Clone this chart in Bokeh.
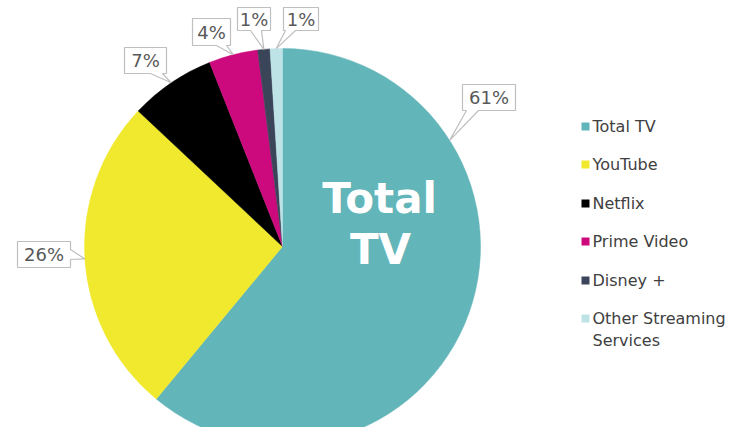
import math
from bokeh.plotting import figure
from bokeh.models import Range1d
from bokeh.core.properties import value
from bokeh.embed import file_html
from bokeh.resources import INLINE

# ---- data ----
categories = ["Total TV", "YouTube", "Netflix", "Prime Video", "Disney +", "Other Streaming Services"]
legend_labels = ["Total TV", "YouTube", "Netflix", "Prime Video", "Disney +", "Other Streaming\nServices"]
shares = [61, 26, 7, 4, 1, 1]
colors = ["#62B5B9", "#F0E92E", "#000000", "#CC0A7E", "#3B4559", "#BDE3E7"]

W, H = 727, 427
p = figure(width=W, height=H, output_backend="svg", toolbar_location=None,
           x_range=Range1d(0, W), y_range=Range1d(-H, 0),
           min_border=0, outline_line_color=None)
p.axis.visible = False
p.grid.visible = False
p.background_fill_color = "white"
p.border_fill_color = "white"

# image coords: x = px, y = -px
cx, cy, R = 282, -246, 198
total = float(sum(shares))
starts, ends, cum = [], [], 0.0
fracs_mid = []
for s in shares:
    a0 = math.pi / 2 - 2 * math.pi * cum / total
    a1 = math.pi / 2 - 2 * math.pi * (cum + s) / total
    starts.append(a0)
    ends.append(a1)
    fracs_mid.append((cum + s / 2) / total)
    cum += s

p.wedge(x=[cx] * len(shares), y=[cy] * len(shares), radius=R,
        start_angle=starts, end_angle=ends, direction="clock",
        fill_color=colors, line_color=colors, line_width=0.5)

# ---- callout labels (box layout in image px) ----
# (x0, x1, y0, y1, tail side, tail base a, tail base b, anchor fraction)
boxes = [
    (462, 515, 84, 110, "bottom", 466, 478, 0.16),
    (17, 70, 241, 267, "right", 249, 259, None),
    (124, 166, 47, 73, "bottom", 150, 162, None),
    (192, 230, 18, 45, "bottom", 216, 226, None),
    (237, 270, 7, 30, "bottom", 250, 261, None),
    (283, 318, 7, 30, "bottom", 285, 295, None),
]
xs_list, ys_list, tx, ty, tt = [], [], [], [], []
for i, (x0, x1, y0, y1, side, ba, bb, fr) in enumerate(boxes):
    f = fracs_mid[i] if fr is None else fr
    ang = math.pi / 2 - 2 * math.pi * f
    tipx = cx + R * math.cos(ang)
    tipy = cy + R * math.sin(ang)
    if side == "bottom":
        pts = [(x0, -y0), (x1, -y0), (x1, -y1), (bb, -y1), (tipx, tipy), (ba, -y1), (x0, -y1)]
    else:  # right
        pts = [(x0, -y0), (x1, -y0), (x1, -ba), (tipx, tipy), (x1, -bb), (x1, -y1), (x0, -y1)]
    xs_list.append([q[0] for q in pts])
    ys_list.append([q[1] for q in pts])
    tx.append((x0 + x1) / 2)
    ty.append(-(y0 + y1) / 2)
    tt.append(f"{shares[i]}%")

p.patches(xs=xs_list, ys=ys_list, fill_color="white", line_color="#BFBFBF", line_width=1.2)
p.text(x=tx, y=ty, text=tt, text_align="center", text_baseline="middle",
       text_font=value("DejaVu Sans"), text_font_size="18px", text_color="#595959")

# ---- big label inside ----
p.text(x=[379, 380], y=[-198, -249], text=["Total", "TV"], text_align="center",
       text_baseline="middle", text_font=value("DejaVu Sans"), text_font_style="bold",
       text_font_size="42px", text_color="white")

# ---- legend ----
row_y = [126, 164, 203, 241, 280, 318]
p.rect(x=[585] * 6, y=[-v for v in row_y], width=8, height=8,
       fill_color=colors, line_color=None)
p.text(x=[592] * 6, y=[-(v - 10) for v in row_y], text=legend_labels,
       text_align="left", text_baseline="top", text_line_height=1.2,
       text_font=value("DejaVu Sans"), text_font_size="16px", text_color="#404040")

open("out.html", "w").write(file_html(p, INLINE))
